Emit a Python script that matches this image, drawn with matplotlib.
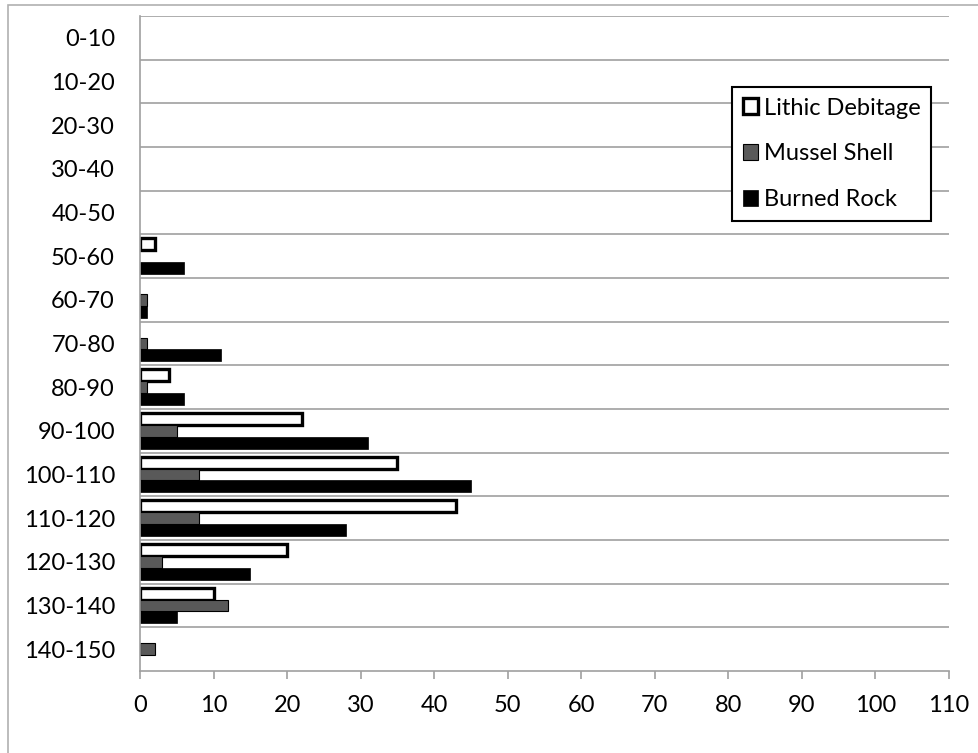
import numpy as np
import matplotlib.pyplot as plt
from matplotlib.patches import Rectangle

plt.rcParams['font.family'] = ['Lato', 'DejaVu Sans']

# depth intervals (cm) and counts per material class
depths = ['0-10', '10-20', '20-30', '30-40', '40-50', '50-60', '60-70', '70-80',
          '80-90', '90-100', '100-110', '110-120', '120-130', '130-140', '140-150']
lithic = [0, 0, 0, 0, 0, 2, 0, 0, 4, 22, 35, 43, 20, 10, 0]
mussel = [0, 0, 0, 0, 0, 0, 1, 1, 1, 5, 8, 8, 3, 12, 2]
burned = [0, 0, 0, 0, 0, 6, 1, 11, 6, 31, 45, 28, 15, 5, 0]

fig = plt.figure(figsize=(9.79, 7.53), dpi=100)
ax = fig.add_axes([140/979, 1-671/753, 809/979, 655/753])

# chart area outline
fig.patches.append(Rectangle((8/979, -0.05), 1.1, 1-5/753+0.05, transform=fig.transFigure,
                             fill=False, edgecolor='#b0b0b0', linewidth=1.2))

y = np.arange(len(depths))
h = 0.27


def bars(vals, offset, **kw):
    # skip empty classes so no stray outline sits on the axis
    v = np.array(vals)
    keep = v > 0
    return ax.barh(y[keep] + offset, v[keep], height=h, zorder=3, **kw)


bars(lithic, -h, color='white', edgecolor='black', linewidth=2.4, label='Lithic Debitage')
bars(mussel, 0, color='#595959', edgecolor='black', linewidth=0.8, label='Mussel Shell')
bars(burned, h, color='black', edgecolor='black', linewidth=0.5, label='Burned Rock')

ax.set_ylim(len(depths) - 0.5, -0.5)
ax.set_xlim(0, 110)
ax.set_xticks(range(0, 111, 10))
ax.set_yticks(y)
ax.set_yticklabels(depths)

# horizontal lines between depth classes
ax.hlines(np.arange(-0.5, len(depths) - 0.5), 0, 110, color='#a0a0a0', linewidth=1.2, zorder=1)

for s in ['top', 'right']:
    ax.spines[s].set_visible(False)
ax.spines['left'].set_color('#a0a0a0')
ax.spines['bottom'].set_color('#a0a0a0')
ax.spines['left'].set_linewidth(1.2)
ax.spines['bottom'].set_linewidth(1.2)
ax.spines['left'].set_zorder(4)

ax.tick_params(axis='x', direction='out', length=6, width=1.2, color='#a0a0a0',
               labelsize=17, pad=11)
ax.tick_params(axis='y', length=0, labelsize=17, pad=18)

leg = ax.legend(loc='upper left', bbox_to_anchor=(0.732, 0.8916), fontsize=17,
                frameon=True, fancybox=False, framealpha=1, edgecolor='black',
                handlelength=0.65, handleheight=0.65, handletextpad=0.25,
                labelspacing=1.05, borderpad=0.45, borderaxespad=0)
leg.get_frame().set_linewidth(1.5)

fig.savefig('out.png', dpi=100)
